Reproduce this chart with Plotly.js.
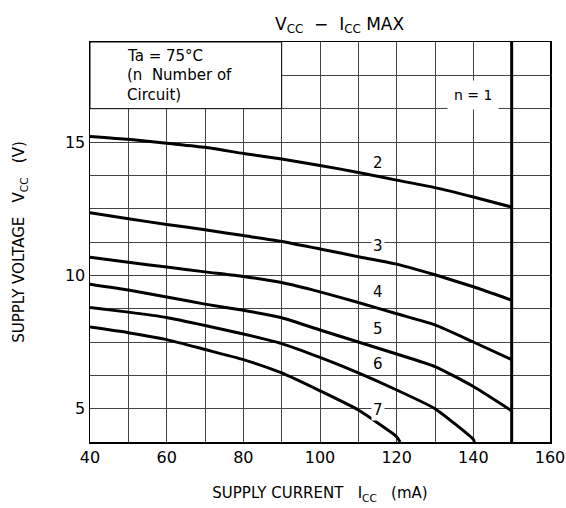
<!DOCTYPE html>
<html>
<head>
<meta charset="utf-8">
<script src="https://cdn.plot.ly/plotly-3.0.1.min.js"></script>
<style>html,body{margin:0;padding:0;background:#fff;}#chart{width:566px;height:508px;}</style>
</head>
<body>
<div id="chart"></div>
<script>
// Supply current (mA) sample points
const icc = [40, 50, 60, 70, 80, 90, 100, 110, 120, 130, 140, 150];
// Max supply voltage (V) for n circuits
const vcc_n2 = [15.21, 15.10, 14.95, 14.80, 14.57, 14.36, 14.12, 13.86, 13.57, 13.29, 12.94, 12.56];
const vcc_n3 = [12.35, 12.12, 11.91, 11.71, 11.49, 11.27, 10.99, 10.70, 10.42, 10.02, 9.57, 9.07];
const vcc_n4 = [10.68, 10.49, 10.31, 10.13, 9.96, 9.73, 9.38, 8.98, 8.56, 8.14, 7.50, 6.84];
const vcc_n5 = [9.67, 9.45, 9.19, 8.92, 8.69, 8.41, 7.95, 7.50, 7.05, 6.58, 5.83, 4.92];
const icc_n6 = [40, 50, 60, 70, 80, 90, 100, 110, 120, 130, 140, 140.3];
const vcc_n6 = [8.79, 8.62, 8.42, 8.12, 7.80, 7.44, 6.92, 6.34, 5.70, 5.00, 3.85, 3.75];
const icc_n7 = [40, 50, 60, 70, 80, 90, 100, 110, 120, 120.9];
const vcc_n7 = [8.06, 7.85, 7.59, 7.22, 6.84, 6.34, 5.67, 4.95, 3.95, 3.75];
// n = 1 limit: vertical at 150 mA
const icc_n1 = [150, 150];
const vcc_n1 = [3.75, 18.75];

const curveLabels = ["2", "3", "4", "5", "6", "7"];
const labelX = [115, 115, 115, 115, 115, 115];
const labelY = [14.2, 11.1, 9.36, 7.97, 6.69, 4.96];

const xTicks = [40, 60, 80, 100, 120, 140, 160];
const yTicks = [5, 10, 15];

const font = "DejaVu Sans, sans-serif";
const curveLine = {color: "#000", width: 3, shape: "spline", smoothing: 0.5};

const traces = [
  {x: icc, y: vcc_n2, mode: "lines", line: curveLine},
  {x: icc, y: vcc_n3, mode: "lines", line: curveLine},
  {x: icc, y: vcc_n4, mode: "lines", line: curveLine},
  {x: icc, y: vcc_n5, mode: "lines", line: curveLine},
  {x: icc_n6, y: vcc_n6, mode: "lines", line: curveLine},
  {x: icc_n7, y: vcc_n7, mode: "lines", line: curveLine},
  {x: icc_n1, y: vcc_n1, mode: "lines", line: {color: "#000", width: 3}}
];

const annotations = curveLabels.map((t, i) => ({
  x: labelX[i], y: labelY[i], xref: "x", yref: "y", text: t, showarrow: false,
  font: {family: font, size: 15, color: "#000"}, bgcolor: "#fff", borderpad: 1
}));
annotations.push({x: 140, y: 16.75, xref: "x", yref: "y", text: "n = 1", showarrow: false,
  font: {family: font, size: 14, color: "#000"}, bgcolor: "#fff", borderpad: 6});
const boxLines = ["Ta = 75°C", "(n  Number of", "Circuit)"];
const boxY = [18.24, 17.5, 16.78];
boxLines.forEach((t, i) => annotations.push({x: 49.0, y: boxY[i], xref: "x", yref: "y", xanchor: "left",
  text: t, showarrow: false, font: {family: font, size: 15, color: "#000"}}));

const layout = {
  width: 566, height: 508,
  margin: {l: 90, r: 16, t: 42, b: 66},
  paper_bgcolor: "#fff", plot_bgcolor: "#fff",
  showlegend: false,
  font: {family: font, size: 15, color: "#000"},
  title: {text: "V<sub>CC</sub>  −  I<sub>CC</sub> MAX", x: 0.6, xanchor: "center", y: 0.965,
    font: {family: font, size: 17, color: "#000"}},
  xaxis: {
    range: [40, 160], tickvals: xTicks, ticks: "", showline: true, mirror: true,
    linecolor: "#000", linewidth: 1.5, showgrid: false, zeroline: false,
    minor: {tick0: 40, dtick: 10, showgrid: true, gridcolor: "#444", gridwidth: 1},
    tickfont: {family: font, size: 16, color: "#000"},
    title: {text: "SUPPLY CURRENT   I<sub>CC</sub>   (mA)", standoff: 22, font: {family: font, size: 15, color: "#000"}}
  },
  yaxis: {
    range: [3.75, 18.75], tickvals: yTicks, ticks: "", showline: true, mirror: true,
    linecolor: "#000", linewidth: 1.5, showgrid: true, gridcolor: "#444", gridwidth: 1, zeroline: false,
    minor: {tick0: 3.75, dtick: 1.25, showgrid: true, gridcolor: "#444", gridwidth: 1},
    tickfont: {family: font, size: 16, color: "#000"},
    title: {text: "SUPPLY VOLTAGE   V<sub>CC</sub>   (V)", standoff: 36, font: {family: font, size: 15, color: "#000"}}
  },
  shapes: [
    {type: "rect", xref: "x", yref: "y", x0: 40, x1: 90, y0: 16.25, y1: 18.75,
      fillcolor: "#fff", line: {color: "#000", width: 1}, layer: "between"}
  ],
  annotations: annotations
};

Plotly.newPlot("chart", traces, layout, {staticPlot: true, displayModeBar: false});
</script>
</body>
</html>
